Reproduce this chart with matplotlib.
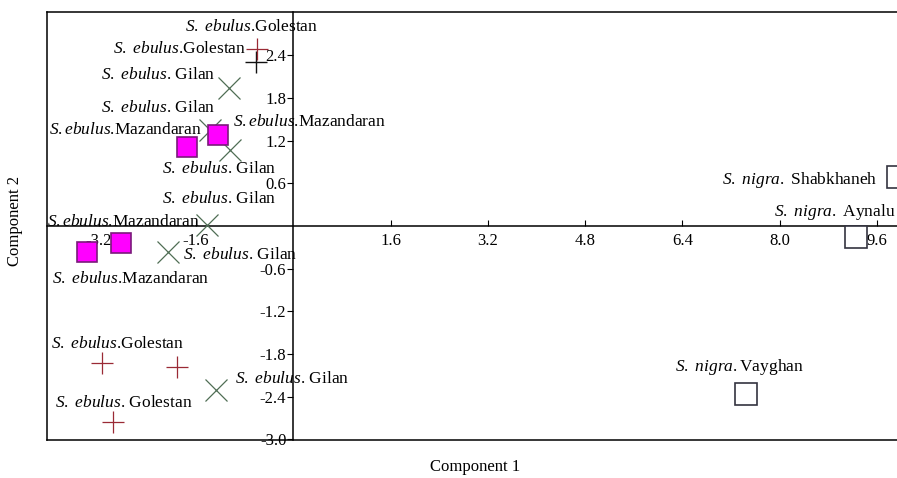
import matplotlib
matplotlib.use("Agg")
import matplotlib.pyplot as plt

plt.rcParams['font.family'] = ['Liberation Serif', 'DejaVu Serif']
plt.rcParams['mathtext.fontset'] = 'custom'
plt.rcParams['mathtext.rm'] = 'Liberation Serif'
plt.rcParams['mathtext.it'] = 'Liberation Serif:italic'

SE = r"$\mathit{S.}$ $\mathit{ebulus}$"
SE2 = r"$\mathit{S.ebulus}$"
SN = r"$\mathit{S.}$ $\mathit{nigra.}$"

# ---- data (PCA scores) ----
golestan_x = [-0.60, -0.62, -3.15, -1.92, -2.97]
golestan_y = [2.49, 2.31, -1.93, -1.99, -2.75]
golestan_labels = [SE + ".Golestan", SE + ".Golestan", SE + ".Golestan", None, SE + ". Golestan"]

gilan_x = [-1.06, -1.37, -1.04, -1.42, -2.06, -1.27]
gilan_y = [1.94, 1.35, 1.07, 0.01, -0.37, -2.31]
gilan_labels = [SE + ". Gilan"] * 6

mazand_x = [-1.23, -1.74, -3.40, -2.84]
mazand_y = [1.28, 1.11, -0.37, -0.24]
mazand_labels = [SE2 + ".Mazandaran", SE2 + ".Mazandaran", SE + ".Mazandaran", SE2 + ".Mazandaran"]

nigra_x = [9.94, 9.25, 7.44]
nigra_y = [0.69, -0.16, -2.37]
nigra_labels = [SN + " Shabkhaneh", SN + " Aynalu", SN + "Vayghan"]

x_ticks = [-3.2, -1.6, 1.6, 3.2, 4.8, 6.4, 8.0, 9.6]
y_ticks = [-3.0, -2.4, -1.8, -1.2, -0.6, 0.6, 1.2, 1.8, 2.4]

# ---- label offsets (pixels) ----
golestan_off = [(-5, 22), (-76, 13), (16, 19), None, (11, 19)]
gilan_off = [(-71, 13), (-52, 22), (-11, -19), (12, 26), (72, -3), (76, 11)]
mazand_off = [(91, 13), (-62, 17), (44, -27), (3, 21)]
nigra_off = [(-20, -3), (-21, 25), (-6, 27)]
nigra_ha = ['right', 'center', 'center']

fig = plt.figure(figsize=(8.97, 4.78), dpi=100)
rect = [47 / 897, 1 - 440 / 478, 1 - 47 / 897, 428 / 478]

frame = fig.add_axes(rect, zorder=0)
frame.set_xticks([]); frame.set_yticks([])
frame.spines['right'].set_visible(False)
for s in ['left', 'bottom', 'top']:
    frame.spines[s].set_linewidth(1.1)
frame.patch.set_facecolor('white')

ax = fig.add_axes(rect, zorder=1)
ax.patch.set_alpha(0)
ax.set_xlim(-4.05, 9.93)
ax.set_ylim(-3.01, 3.01)
ax.spines['left'].set_position(('data', 0))
ax.spines['bottom'].set_position(('data', 0))
ax.spines['top'].set_visible(False)
ax.spines['right'].set_visible(False)
ax.spines['left'].set_linewidth(1.1)
ax.spines['bottom'].set_linewidth(1.1)
ax.set_xticks(x_ticks)
ax.set_yticks(y_ticks)
ax.set_xticklabels([f"{v:.1f}" for v in x_ticks])
ax.set_yticklabels([f"{v:.1f}" for v in y_ticks])
ax.tick_params(axis='x', direction='in', length=4, width=0.8, pad=5, labelsize=12)
ax.tick_params(axis='y', direction='out', length=4, width=0.8, pad=1, labelsize=12)

# markers
ax.plot(golestan_x[1:2], golestan_y[1:2], linestyle='none', marker='+', ms=16,
        mew=1.0, color='#111111', zorder=3)
ax.plot(golestan_x[:1] + golestan_x[2:], golestan_y[:1] + golestan_y[2:], linestyle='none',
        marker='+', ms=16, mew=0.9, color='#9a2a35', zorder=3)
ax.plot(gilan_x, gilan_y, linestyle='none', marker='x', ms=16, mew=0.9,
        color='#4f6e55', zorder=3)
ax.plot(mazand_x, mazand_y, linestyle='none', marker='s', ms=14, mew=1.2,
        markerfacecolor='#ff00ff', markeredgecolor='#7a1a7a', zorder=4)
ax.plot(nigra_x, nigra_y, linestyle='none', marker='s', ms=15.5, mew=1.2,
        markerfacecolor='white', markeredgecolor='#333340', zorder=4)

fs = 12.5

def put(xs, ys, labels, offs, has=None):
    for i, (x, y, lab, off) in enumerate(zip(xs, ys, labels, offs)):
        if lab is None:
            continue
        ha = has[i] if has else 'center'
        ax.annotate(lab, (x, y), xytext=off, textcoords='offset pixels',
                    ha=ha, va='center', fontsize=fs, zorder=5, annotation_clip=False)

put(golestan_x, golestan_y, golestan_labels, golestan_off)
put(gilan_x, gilan_y, gilan_labels, gilan_off)
put(mazand_x, mazand_y, mazand_labels, mazand_off)
put(nigra_x, nigra_y, nigra_labels, nigra_off, nigra_ha)

fig.text(475 / 897, 1 - 467 / 478, "Component 1", ha='center', va='center', fontsize=12)
fig.text(15 / 897, 1 - 221 / 478, "Component 2", ha='center', va='center', fontsize=12,
         rotation=90)

fig.savefig("out.png", dpi=100)
